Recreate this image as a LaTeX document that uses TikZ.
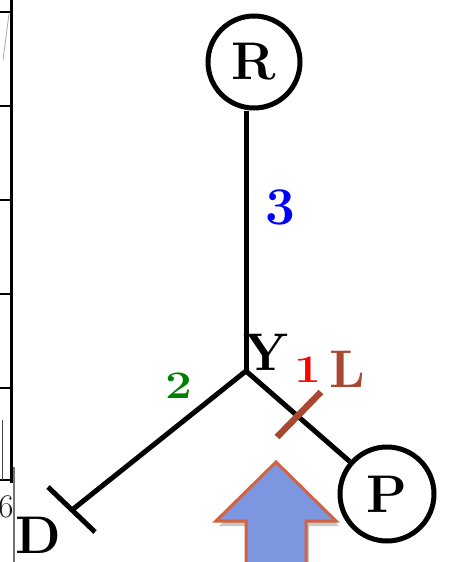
\documentclass[tikz,border=0pt]{standalone}
\usepackage{tikz}
\usetikzlibrary{calc}
\definecolor{brownbar}{RGB}{168,72,48}
\definecolor{arrowblue}{RGB}{124,150,224}
\definecolor{arroworange}{RGB}{210,98,64}
\definecolor{lblgreen}{RGB}{0,128,0}
\tikzset{
  edge/.style={line width=5pt},
  axis/.style={line width=3pt},
  tickmark/.style={line width=2.5pt},
  bigcircle/.style={circle, draw, line width=5pt, inner sep=0pt, font=\fontsize{53}{53}\selectfont\bfseries},
  biglbl/.style={inner sep=0pt, font=\fontsize{53}{53}\selectfont\bfseries},
  smalllbl/.style={inner sep=0pt, font=\fontsize{39}{39}\selectfont\bfseries, xscale=1.22},
}
\begin{document}
\begin{tikzpicture}[x=1pt,y=-1pt]
\useasboundingbox (0,0) rectangle (452,562);
% left-edge remnants of a plot
\draw[axis] (11,0) -- (11,483);
\foreach \yy in {12,106,200,294,388,480} \draw[tickmark] (0,\yy) -- (11,\yy);
\draw[line width=1pt, black!70] (2,420) -- (2,480);
\draw[line width=1.5pt, black!55] (14,467) -- (14,562);
\draw[line width=0.8pt, black!35] (9,14) -- (3,60);
\node[inner sep=0pt, font=\fontsize{33}{33}\selectfont, text=black!90] (six) at (6,507) {6};

% big arrow
\begin{scope}[shift={(3,5)}]
\fill[black, opacity=0.22] (276,462) -- (336,521) -- (306,521) -- (306,575) -- (246,575) -- (246,521) -- (216,521) -- cycle;
\end{scope}
\draw[fill=arrowblue, draw=arroworange, line width=3pt, line join=miter]
  (276,462) -- (336,521) -- (306,521) -- (306,575) -- (246,575) -- (246,521) -- (216,521) -- cycle;

% tree
\coordinate (Y) at (246,371);
\coordinate (Dend) at (72,510);
\node[bigcircle, minimum size=92pt] (R) at (254,62) {R};
\node[bigcircle, minimum size=94pt] (P) at (387,494) {P};
\draw[edge] (Y) -- (Y |- R.south);
\draw[edge] (Y) -- (P);
\draw[edge] (Y) -- (Dend);
\draw[edge] ($(Dend)+(-24,-23)$) -- ($(Dend)+(23,22)$);
\coordinate (Lmid) at (299,414.5);
\draw[line width=6.5pt, brownbar] ($(Lmid)+(-22,22.5)$) -- ($(Lmid)+(22,-22.5)$);

% labels
\node[biglbl] (ylbl) at (266,352) {Y};
\node[biglbl, text=blue] (three) at (280.5,207) {3};
\node[smalllbl, text=red] (one) at (308,370) {1};
\node[smalllbl, text=lblgreen] (two) at (179,386) {2};
\node[biglbl, text=brownbar] (L) at (347,369) {L};
\node[biglbl] (D) at (38.5,535.5) {D};
\end{tikzpicture}
\end{document}
